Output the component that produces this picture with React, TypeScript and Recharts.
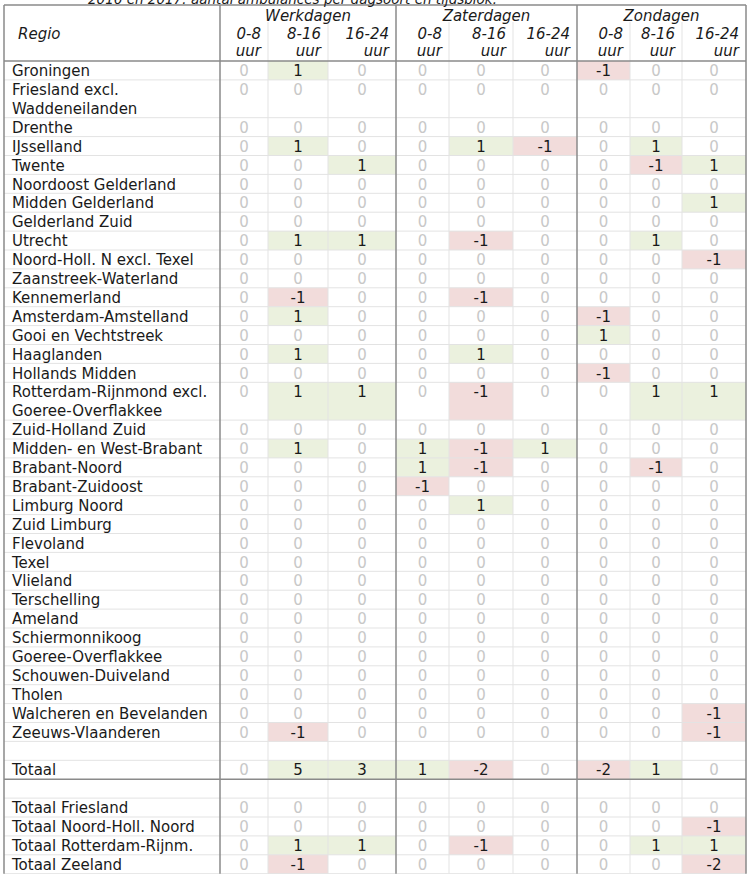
import { ScatterChart, Scatter, XAxis, YAxis, ReferenceArea, ReferenceLine } from 'recharts';

// --- data ---------------------------------------------------------------

const caption = '2016 en 2017: aantal ambulances per dagsoort en tijdsblok:';
const dayTypes = ['Werkdagen', 'Zaterdagen', 'Zondagen'];
const timeBlocks = ['0-8', '8-16', '16-24'];

// '' = empty separator row, '\n' = label wraps to a second line
const regions = [
  'Groningen',
  'Friesland excl.\nWaddeneilanden',
  'Drenthe',
  'IJsselland',
  'Twente',
  'Noordoost Gelderland',
  'Midden Gelderland',
  'Gelderland Zuid',
  'Utrecht',
  'Noord-Holl. N excl. Texel',
  'Zaanstreek-Waterland',
  'Kennemerland',
  'Amsterdam-Amstelland',
  'Gooi en Vechtstreek',
  'Haaglanden',
  'Hollands Midden',
  'Rotterdam-Rijnmond excl.\nGoeree-Overflakkee',
  'Zuid-Holland Zuid',
  'Midden- en West-Brabant',
  'Brabant-Noord',
  'Brabant-Zuidoost',
  'Limburg Noord',
  'Zuid Limburg',
  'Flevoland',
  'Texel',
  'Vlieland',
  'Terschelling',
  'Ameland',
  'Schiermonnikoog',
  'Goeree-Overflakkee',
  'Schouwen-Duiveland',
  'Tholen',
  'Walcheren en Bevelanden',
  'Zeeuws-Vlaanderen',
  '',
  'Totaal',
  '',
  'Totaal Friesland',
  'Totaal Noord-Holl. Noord',
  'Totaal Rotterdam-Rijnm.',
  'Totaal Zeeland',
];

const werk0_8 = [0, 0, 0, 0, 0, 0, 0, 0, 0, 0, 0, 0, 0, 0, 0, 0, 0, 0, 0, 0, 0, 0, 0, 0, 0, 0, 0, 0, 0, 0, 0, 0, 0, 0, null, 0, null, 0, 0, 0, 0];
const werk8_16 = [1, 0, 0, 1, 0, 0, 0, 0, 1, 0, 0, -1, 1, 0, 1, 0, 1, 0, 1, 0, 0, 0, 0, 0, 0, 0, 0, 0, 0, 0, 0, 0, 0, -1, null, 5, null, 0, 0, 1, -1];
const werk16_24 = [0, 0, 0, 0, 1, 0, 0, 0, 1, 0, 0, 0, 0, 0, 0, 0, 1, 0, 0, 0, 0, 0, 0, 0, 0, 0, 0, 0, 0, 0, 0, 0, 0, 0, null, 3, null, 0, 0, 1, 0];
const zat0_8 = [0, 0, 0, 0, 0, 0, 0, 0, 0, 0, 0, 0, 0, 0, 0, 0, 0, 0, 1, 1, -1, 0, 0, 0, 0, 0, 0, 0, 0, 0, 0, 0, 0, 0, null, 1, null, 0, 0, 0, 0];
const zat8_16 = [0, 0, 0, 1, 0, 0, 0, 0, -1, 0, 0, -1, 0, 0, 1, 0, -1, 0, -1, -1, 0, 1, 0, 0, 0, 0, 0, 0, 0, 0, 0, 0, 0, 0, null, -2, null, 0, 0, -1, 0];
const zat16_24 = [0, 0, 0, -1, 0, 0, 0, 0, 0, 0, 0, 0, 0, 0, 0, 0, 0, 0, 1, 0, 0, 0, 0, 0, 0, 0, 0, 0, 0, 0, 0, 0, 0, 0, null, 0, null, 0, 0, 0, 0];
const zon0_8 = [-1, 0, 0, 0, 0, 0, 0, 0, 0, 0, 0, 0, -1, 1, 0, -1, 0, 0, 0, 0, 0, 0, 0, 0, 0, 0, 0, 0, 0, 0, 0, 0, 0, 0, null, -2, null, 0, 0, 0, 0];
const zon8_16 = [0, 0, 0, 1, -1, 0, 0, 0, 1, 0, 0, 0, 0, 0, 0, 0, 1, 0, 0, -1, 0, 0, 0, 0, 0, 0, 0, 0, 0, 0, 0, 0, 0, 0, null, 1, null, 0, 0, 1, 0];
const zon16_24 = [0, 0, 0, 0, 1, 0, 1, 0, 0, -1, 0, 0, 0, 0, 0, 0, 1, 0, 0, 0, 0, 0, 0, 0, 0, 0, 0, 0, 0, 0, 0, 0, -1, -1, null, 0, null, 0, -1, 1, -2];

const columns = [werk0_8, werk8_16, werk16_24, zat0_8, zat8_16, zat16_24, zon0_8, zon8_16, zon16_24];

// --- layout -------------------------------------------------------------

const W = 751;
const H = 874;
const ROW = 18.9; // px per text line
const HEAD = 61; // px above first data row
const EDGES = [4, 220, 268, 328, 396, 449, 513, 577, 630, 682, 746];
const PAD = 7;
const FONT = '"DejaVu Sans", Verdana, sans-serif';

const GREEN = '#EBF1DE';
const RED = '#F2DCDB';
const LIGHT = '#e3e3e3';
const DARK = '#8a8a8a';

// y axis in text-line units, 0 = header bottom
const pxToLine = (px: number) => (px - HEAD) / ROW;
const yMin = pxToLine(0);
const yMax = pxToLine(H);
const tableTop = pxToLine(5);
const subTop = pxToLine(22);

const lineCount = regions.map((r) => (r === '' ? 1 : r.split('\n').length));
const rowTop: number[] = [];
let acc = 0;
lineCount.forEach((n) => {
  rowTop.push(acc);
  acc += n;
});
const bottom = acc;
const totalBottom = rowTop[regions.indexOf('Totaal')] + 1;

const colLeft = (c: number) => EDGES[c + 1];
const colRight = (c: number) => EDGES[c + 2];

const cells = columns.flatMap((col, c) =>
  col
    .map((v, i) => ({ x: (colLeft(c) + colRight(c)) / 2, y: rowTop[i] + 0.5, value: v, row: i, col: c }))
    .filter((d) => d.value !== null)
);

const labels = regions.flatMap((r, i) =>
  r === '' ? [] : r.split('\n').map((t, k) => ({ x: EDGES[0] + 8, y: rowTop[i] + k + 0.5, text: t, anchor: 'start' }))
);

const headers = [
  { x: 88, y: pxToLine(-1.2), text: caption, anchor: 'start', size: 13.5 },
  { x: 18, y: pxToLine(33), text: 'Regio', anchor: 'start' },
  ...dayTypes.map((d, g) => ({ x: (EDGES[1 + g * 3] + EDGES[4 + g * 3]) / 2, y: pxToLine(15.4), text: d, anchor: 'middle' })),
  ...columns.flatMap((_, c) => [
    { x: colRight(c) - PAD, y: pxToLine(33), text: timeBlocks[c % 3], anchor: 'end' },
    { x: colRight(c) - PAD, y: pxToLine(50.4), text: 'uur', anchor: 'end' },
  ]),
];

const TextMark = (props: any) => {
  const { cx, cy, payload } = props;
  return (
    <text
      x={cx}
      y={cy}
      dy="0.38em"
      textAnchor={payload.anchor}
      fontStyle={payload.italic ? 'italic' : 'normal'}
      fontSize={payload.size || 15}
      fontFamily={FONT}
      fill="#1a1a1a"
    >
      {payload.text}
    </text>
  );
};

const HeaderMark = (props: any) => <TextMark {...props} payload={{ ...props.payload, italic: true }} />;

const ValueMark = (props: any) => {
  const { cx, cy, payload } = props;
  return (
    <text x={cx} y={cy} dy="0.38em" textAnchor="middle" fontSize={15} fontFamily={FONT} fill={payload.value === 0 ? '#c8c8c8' : '#1a1a1a'}>
      {payload.value}
    </text>
  );
};

export default function App() {
  const hLines = rowTop.slice(1).concat([bottom]).filter((v) => v !== totalBottom);
  const lightV = [2, 3, 5, 6, 8, 9].map((i) => EDGES[i]);
  const darkV = [0, 1, 4, 7, 10].map((i) => EDGES[i]);

  return (
    <div style={{ position: 'absolute', left: 0, top: 0, background: '#fff' }}>
      <ScatterChart width={W} height={H} margin={{ top: 0, right: 0, bottom: 0, left: 0 }}>
        <XAxis type="number" dataKey="x" domain={[0, W]} allowDataOverflow hide />
        <YAxis type="number" dataKey="y" domain={[yMin, yMax]} allowDataOverflow reversed hide />

        {cells
          .filter((d) => d.value !== 0)
          .map((d) => (
            <ReferenceArea
              key={`f-${d.row}-${d.col}`}
              x1={colLeft(d.col)}
              x2={colRight(d.col)}
              y1={rowTop[d.row]}
              y2={rowTop[d.row] + lineCount[d.row]}
              fill={(d.value as number) > 0 ? GREEN : RED}
              fillOpacity={1}
              stroke="none"
              ifOverflow="visible"
            />
          ))}

        {hLines.map((v) => (
          <ReferenceLine key={`h-${v}`} segment={[{ x: EDGES[0], y: v }, { x: EDGES[10], y: v }]} stroke={LIGHT} strokeWidth={1} ifOverflow="visible" />
        ))}
        {lightV.map((x) => (
          <ReferenceLine key={`lv-${x}`} segment={[{ x, y: subTop }, { x, y: bottom }]} stroke={LIGHT} strokeWidth={1} ifOverflow="visible" />
        ))}
        {darkV.map((x) => (
          <ReferenceLine key={`dv-${x}`} segment={[{ x, y: tableTop }, { x, y: bottom }]} stroke={DARK} strokeWidth={1.5} ifOverflow="visible" />
        ))}
        {[tableTop, 0, totalBottom].map((v) => (
          <ReferenceLine key={`dh-${v}`} segment={[{ x: EDGES[0], y: v }, { x: EDGES[10], y: v }]} stroke={DARK} strokeWidth={1.5} ifOverflow="visible" />
        ))}

        <Scatter data={headers} shape={<HeaderMark />} isAnimationActive={false} />
        <Scatter data={labels} shape={<TextMark />} isAnimationActive={false} />
        <Scatter data={cells} shape={<ValueMark />} isAnimationActive={false} />
      </ScatterChart>
    </div>
  );
}
